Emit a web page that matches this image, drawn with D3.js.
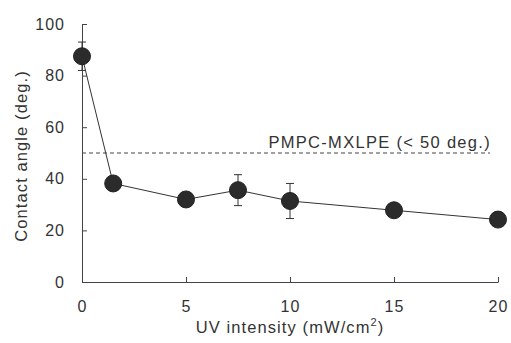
<!DOCTYPE html>
<html><head><meta charset="utf-8">
<script src="https://d3js.org/d3.v7.min.js"></script>
<style>
  body { margin: 0; background: #fff; }
  svg text { font-family: 'Liberation Sans', Arial, sans-serif; fill: #333; }
</style>
</head><body>
<div id="chart"></div>
<script>
var uv = [0, 1.5, 5, 7.5, 10, 15, 20];
var angle = [87.5, 38.2, 32.0, 35.6, 31.4, 27.8, 24.2];
var err = [5.5, 0, 0, 6.0, 6.8, 0, 0];
var xTicks = [0, 5, 10, 15, 20];
var yTicks = [0, 20, 40, 60, 80, 100];
var refValue = 50;
var refLabel = "PMPC-MXLPE (< 50 deg.)";

var W = 511, H = 343;
var svg = d3.select("#chart").append("svg").attr("width", W).attr("height", H);

var x = d3.scaleLinear().domain([0, 20]).range([82, 498]);
var y = d3.scaleLinear().domain([0, 100]).range([282, 24]);

// axes, ticks point inwards
svg.append("g").attr("transform", "translate(0,282)")
  .call(d3.axisBottom(x).tickValues(xTicks).tickSize(-5).tickPadding(19).tickSizeOuter(0))
  .call(g => g.select(".domain").attr("stroke", "#444"))
  .call(g => g.selectAll(".tick line").attr("stroke", "#444"))
  .call(g => g.selectAll("text").attr("font-size", 16).attr("letter-spacing", 1).attr("fill", "#333"));

svg.append("g").attr("transform", "translate(82,0)")
  .call(d3.axisLeft(y).tickValues(yTicks).tickSize(-5).tickPadding(17).tickSizeOuter(0))
  .call(g => g.select(".domain").attr("stroke", "#444"))
  .call(g => g.selectAll(".tick line").attr("stroke", "#444"))
  .call(g => g.selectAll("text").attr("font-size", 16).attr("letter-spacing", 1).attr("fill", "#333"));

// reference line
svg.append("line")
  .attr("x1", x(0)).attr("x2", 490)
  .attr("y1", y(refValue)).attr("y2", y(refValue))
  .attr("stroke", "#444").attr("stroke-dasharray", "4,3");
svg.append("text").attr("x", 491).attr("y", y(refValue) - 5)
  .attr("text-anchor", "end").attr("font-size", 16.5).attr("letter-spacing", 1.3).text(refLabel);

var pts = uv.map((d, i) => ({x: d, y: angle[i], e: err[i]}));

svg.append("path").datum(pts)
  .attr("fill", "none").attr("stroke", "#333").attr("stroke-width", 1)
  .attr("d", d3.line().x(d => x(d.x)).y(d => y(d.y)));

// error bars
var eb = svg.selectAll(".eb").data(pts.filter(d => d.e > 0)).enter().append("g");
eb.append("line").attr("x1", d => x(d.x)).attr("x2", d => x(d.x))
  .attr("y1", d => y(d.y + d.e)).attr("y2", d => y(d.y - d.e)).attr("stroke", "#333");
eb.append("line").attr("x1", d => x(d.x) - 4).attr("x2", d => x(d.x) + 4)
  .attr("y1", d => y(d.y + d.e)).attr("y2", d => y(d.y + d.e)).attr("stroke", "#333");
eb.append("line").attr("x1", d => x(d.x) - 4).attr("x2", d => x(d.x) + 4)
  .attr("y1", d => y(d.y - d.e)).attr("y2", d => y(d.y - d.e)).attr("stroke", "#333");

svg.selectAll("circle").data(pts).enter().append("circle")
  .attr("cx", d => x(d.x)).attr("cy", d => y(d.y)).attr("r", 8.5)
  .attr("fill", "#2b2b2b").attr("stroke", "#222");

// titles
svg.append("text").attr("x", 290).attr("y", 333).attr("text-anchor", "middle")
  .attr("font-size", 16.5).attr("letter-spacing", 1.1)
  .html('UV intensity (mW/cm<tspan dy="-7" font-size="11">2</tspan><tspan dy="7">)</tspan>');
svg.append("text").attr("transform", "translate(27,156) rotate(-90)")
  .attr("text-anchor", "middle").attr("font-size", 16.5).attr("letter-spacing", 1.1).text("Contact angle (deg.)");
</script>
</body></html>
